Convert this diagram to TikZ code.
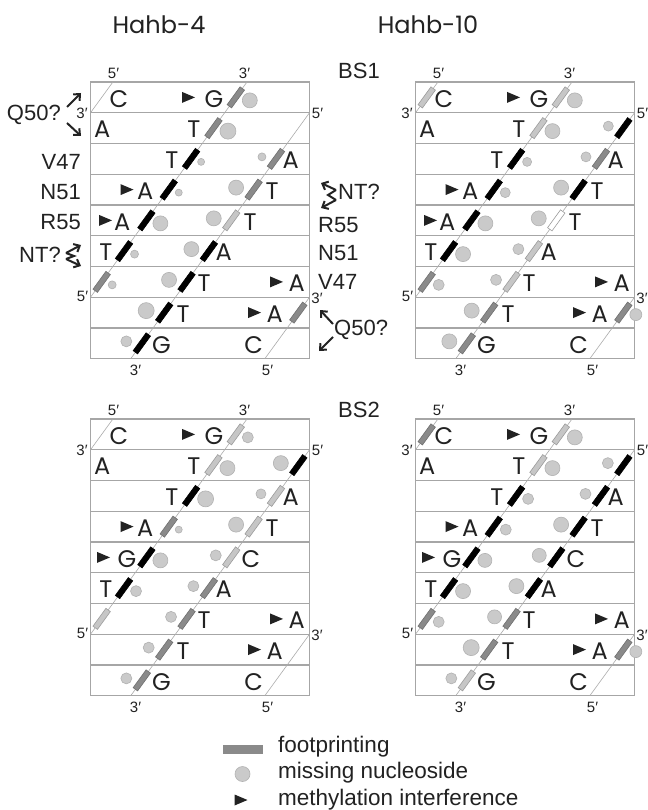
\documentclass[tikz,border=0pt]{standalone}
\usepackage{fontspec}
\setmainfont{Liberation Sans}
\newfontfamily\geo{Poppins}
\usetikzlibrary{arrows.meta}
\definecolor{gM}{HTML}{8A8A8A}
\definecolor{gMd}{HTML}{707070}
\definecolor{gL}{HTML}{C6C6C6}
\definecolor{gLd}{HTML}{9C9C9C}
\definecolor{gC}{HTML}{CACACA}
\definecolor{gCd}{HTML}{B2B2B2}
\definecolor{gBox}{HTML}{A6A6A6}
\definecolor{gStr}{HTML}{ABABAB}
\definecolor{txt}{HTML}{222222}
\tikzset{
  bar/.style={rectangle, minimum width=22pt, minimum height=5.5pt, inner sep=0pt, rotate=54, line width=0.6pt},
  barK/.style={fill=black, draw=black},
  barM/.style={fill=gM, draw=gMd},
  barL/.style={fill=gL, draw=gLd},
  barW/.style={fill=white, draw=gLd},
  dot/.style={circle, fill=gC, draw=gCd, inner sep=0pt, line width=0.6pt},
  nt/.style={inner sep=0pt, font=\geo\fontsize{24}{26}\selectfont, text=txt},
  lab/.style={inner sep=0pt, font=\fontsize{22}{24}\selectfont, text=txt},
  leg/.style={inner sep=0pt, font=\fontsize{22.5}{24}\selectfont, text=txt},
  ttl/.style={inner sep=0pt, font=\geo\fontsize{24}{27}\selectfont, text=txt},
  endlab/.style={inner sep=0pt, font=\fontsize{15}{17}\selectfont, text=txt},
  boxline/.style={draw=gBox, line width=1.2pt},
  rowline/.style={draw=gBox, line width=1.2pt},
  strand/.style={draw=gStr, line width=0.6pt},
  arr/.style={draw=txt, line width=2pt, -{Straight Barb[length=5pt,width=9pt]}},
  zig/.style={draw=txt, line width=2pt, line join=miter}
}
\newcommand\Tri[2]{\fill[txt] ({#1-6.5},{#2-5.5}) -- ({#1+6.5},{#2}) -- ({#1-6.5},{#2+5.5}) -- cycle;}
\newcommand\Frame{%
  \draw[boxline] (0,0) rectangle (219,276.75);
  \foreach \k in {1,...,8}{\draw[rowline] (0,{\k*30.75}) -- (219,{\k*30.75});}
  \coordinate (\pp sA1) at (0,215.25); \coordinate (\pp sA2) at (156.5,0);
  \coordinate (\pp sB1) at (219,30.75); \coordinate (\pp sB2) at (40.2,276.75);
  \coordinate (\pp sC1) at (0,30.75); \coordinate (\pp sC2) at (22.4,0);
  \coordinate (\pp sD1) at (219,215.25); \coordinate (\pp sD2) at (174.3,276.75);
  \draw[strand] (\pp sA1) -- (\pp sA2);
  \draw[strand] (\pp sB1) -- (\pp sB2);
  \draw[strand] (\pp sC1) -- (\pp sC2);
  \draw[strand] (\pp sD1) -- (\pp sD2);
  \node[endlab] (\pp e1) at (23,-8.5) {5′};
  \node[endlab] (\pp e2) at (154,-8.5) {3′};
  \node[endlab] (\pp e3) at (-8.5,31) {3′};
  \node[endlab] (\pp e4) at (227,31) {5′};
  \node[endlab] (\pp e5) at (-8,214) {5′};
  \node[endlab] (\pp e6) at (226.5,216) {3′};
  \node[endlab] (\pp e7) at (45,288.5) {3′};
  \node[endlab] (\pp e8) at (177,288.5) {5′};
}
\newcommand\Letters[5]{%
  \node[nt,anchor=west] (\pp n1a) at (19,16.9) {C};
  \Tri{98}{15.4}
  \node[nt,anchor=east] (\pp n1b) at (133,16.9) {G};
  \node[nt,anchor=west] (\pp n2a) at (3.5,47.6) {A};
  \node[nt,anchor=east] (\pp n2b) at (110,47.6) {T};
  \node[nt,anchor=east] (\pp n3a) at (88,78.4) {T};
  \node[nt,anchor=west] (\pp n3b) at (192,78.4) {A};
  \Tri{36.5}{107.6}
  \node[nt,anchor=east] (\pp n4a) at (63,109.1) {A};
  \node[nt,anchor=west] (\pp n4b) at (175,109.1) {T};
  \Tri{#3}{138.4}
  \node[nt,anchor=east] (\pp n5a) at (#2,139.9) {#1};
  \node[nt,anchor=west] (\pp n5b) at (#5,139.9) {#4};
  \node[nt,anchor=east] (\pp n6a) at (22,170.6) {T};
  \node[nt,anchor=west] (\pp n6b) at (125,170.6) {A};
  \node[nt,anchor=west] (\pp n7a) at (107,201.4) {T};
  \Tri{186}{199.9}
  \node[nt,anchor=east] (\pp n7b) at (214.5,201.4) {A};
  \node[nt,anchor=west] (\pp n8a) at (86,232.1) {T};
  \Tri{164}{230.6}
  \node[nt,anchor=east] (\pp n8b) at (192.5,232.1) {A};
  \node[nt,anchor=west] (\pp n9a) at (61.5,262.9) {G};
  \node[nt,anchor=east] (\pp n9b) at (172.5,262.9) {C};
}
% strand A (rows 1-7): bar, circle to the right
\newcommand\SA[3]{%
  \pgfmathsetmacro\myBX{22.355*(7.5-#1)}%
  \pgfmathsetmacro\myBY{(#1-0.5)*30.75}%
  \node[bar,#2] (\pp a#1) at (\myBX,\myBY) {};%
  \ifdim #3pt>0pt
    \pgfmathsetmacro\myCD{2*#3}%
    \node[dot,minimum size=\myCD pt] (\pp ca#1) at ({\myBX+6.5+#3},{\myBY+3}) {};%
  \fi}
% strand B (rows 2-9): bar, circle to the left
\newcommand\SB[3]{%
  \pgfmathsetmacro\myBX{219-22.355*(#1-1.5)}%
  \pgfmathsetmacro\myBY{(#1-0.5)*30.75}%
  \node[bar,#2] (\pp b#1) at (\myBX,\myBY) {};%
  \ifdim #3pt>0pt
    \pgfmathsetmacro\myCD{2*#3}%
    \node[dot,minimum size=\myCD pt] (\pp cb#1) at ({\myBX-10-#3},{\myBY-2}) {};%
  \fi}
% strand C (row 1)
\newcommand\SC[1]{\node[bar,#1] (\pp c1) at (11.2,15.4) {};}
% strand D (rows 8-9): bar, circle to the right
\newcommand\SD[3]{%
  \pgfmathsetmacro\myBX{219-22.355*(#1-7.5)}%
  \pgfmathsetmacro\myBY{(#1-0.5)*30.75}%
  \node[bar,#2] (\pp d#1) at (\myBX,\myBY) {};%
  \ifdim #3pt>0pt
    \pgfmathsetmacro\myCD{2*#3}%
    \node[dot,minimum size=\myCD pt] (\pp cd#1) at ({\myBX+6.5+#3},{\myBY+2}) {};%
  \fi}
\begin{document}
\begin{tikzpicture}[x=1pt,y=-1pt]
\useasboundingbox (0,0) rectangle (647,810);
\fill[white] (0,0) rectangle (647,810);
% titles
\node[ttl] (t1) at (159,25) {Hahb-4};
\node[ttl] (t2) at (428,25) {Hahb-10};
\node[lab] (bs1) at (359,71) {BS1};
\node[lab] (bs2) at (359,410) {BS2};

% ---- Hahb-4 BS1
\def\pp{p1}
\begin{scope}[shift={(90.5,82)}]
\Frame
\SA{1}{barM}{7.5}\SA{2}{barM}{8}\SA{3}{barK}{3.5}\SA{4}{barK}{3.5}
\SA{5}{barK}{7.5}\SA{6}{barK}{4}\SA{7}{barM}{4}
\SB{3}{barM}{4}\SB{4}{barM}{7.5}\SB{5}{barL}{7.5}\SB{6}{barK}{7.5}
\SB{7}{barK}{7.5}\SB{8}{barK}{8}\SB{9}{barK}{5.5}
\SD{8}{barM}{0}
\Letters{A}{40}{15}{T}{153}
\end{scope}

% ---- Hahb-10 BS1
\def\pp{p2}
\begin{scope}[shift={(415.5,82)}]
\Frame
\SC{barL}
\SA{1}{barL}{7.5}\SA{2}{barL}{7.5}\SA{3}{barK}{4.5}\SA{4}{barK}{5}
\SA{5}{barK}{7.5}\SA{6}{barK}{7.5}\SA{7}{barM}{5.5}
\SB{2}{barK}{5}\SB{3}{barM}{5}\SB{4}{barK}{7.5}\SB{5}{barW}{7.5}
\SB{6}{barL}{5.5}\SB{7}{barL}{5.5}\SB{8}{barM}{7.5}\SB{9}{barM}{7.5}
\SD{8}{barM}{6}
\Letters{A}{40}{15}{T}{153}
\end{scope}

% ---- Hahb-4 BS2
\def\pp{p3}
\begin{scope}[shift={(90.5,419)}]
\Frame
\SA{1}{barL}{5.5}\SA{2}{barL}{7.5}\SA{3}{barK}{8}\SA{4}{barM}{3.5}
\SA{5}{barK}{7.5}\SA{6}{barK}{5.5}\SA{7}{barL}{0}
\SB{2}{barK}{7.5}\SB{3}{barL}{5}\SB{4}{barL}{7.5}\SB{5}{barL}{5.5}
\SB{6}{barM}{5.5}\SB{7}{barM}{5.5}\SB{8}{barM}{5.5}\SB{9}{barM}{5.5}
\Letters{G}{46}{13}{C}{151}
\end{scope}

% ---- Hahb-10 BS2
\def\pp{p4}
\begin{scope}[shift={(415.5,419)}]
\Frame
\SC{barM}
\SA{1}{barL}{7.5}\SA{2}{barL}{7.5}\SA{3}{barK}{5.5}\SA{4}{barK}{5.5}
\SA{5}{barK}{7}\SA{6}{barK}{7.5}\SA{7}{barM}{5.5}
\SB{2}{barK}{5.5}\SB{3}{barK}{5.5}\SB{4}{barK}{7.5}\SB{5}{barK}{7}
\SB{6}{barK}{7.5}\SB{7}{barM}{7}\SB{8}{barM}{8}\SB{9}{barL}{5.5}
\SD{8}{barM}{6}
\Letters{G}{46}{13}{C}{151}
\end{scope}

% side labels, left
\node[lab,anchor=east] (lq50) at (61,115) {Q50?};
\node[lab,anchor=east] (lv47) at (81,162) {V47};
\node[lab,anchor=east] (ln51) at (81,192.5) {N51};
\node[lab,anchor=east] (lr55) at (81,222.5) {R55};
\node[lab,anchor=east] (lnt) at (61,255) {NT?};
\coordinate (qa1) at (67,107); \coordinate (qa2) at (81,93);
\coordinate (qb1) at (67,123); \coordinate (qb2) at (81,136);
\draw[arr] (qa1) -- (qa2);
\draw[arr] (qb1) -- (qb2);
\coordinate (na1) at (66,253); \coordinate (na2) at (81,245);
\coordinate (nb1) at (66,259); \coordinate (nb2) at (81,266);
\coordinate (nm) at (74,256);
\draw[arr] (na1) -- (na2);
\draw[arr] (nb1) -- (nb2);
\draw[zig] (na1) -- (nm) -- (nb1);
% side labels, right
\node[lab,anchor=west] (rnt) at (338,192) {NT?};
\node[lab,anchor=west] (rr55) at (318,225) {R55};
\node[lab,anchor=west] (rn51) at (318,253.5) {N51};
\node[lab,anchor=west] (rv47) at (318,281.5) {V47};
\node[lab,anchor=west] (rq50) at (334,330) {Q50?};
\coordinate (rna1) at (336,190); \coordinate (rna2) at (321,183);
\coordinate (rnb1) at (336,200); \coordinate (rnb2) at (321,208);
\coordinate (rnm) at (328,195);
\draw[arr] (rna1) -- (rna2);
\draw[arr] (rnb1) -- (rnb2);
\draw[zig] (rna1) -- (rnm) -- (rnb1);
\coordinate (rqa1) at (333,324); \coordinate (rqa2) at (320,310);
\coordinate (rqb1) at (333,337); \coordinate (rqb2) at (319,351);
\draw[arr] (rqa1) -- (rqa2);
\draw[arr] (rqb1) -- (rqb2);

% legend
\node[rectangle, fill=gM, minimum width=40pt, minimum height=9pt, inner sep=0pt] (lg1) at (243,749) {};
\node[dot, minimum size=15pt] (lg2) at (242.5,774) {};
\Tri{241}{800}
\node[leg,anchor=base west] (lt1) at (278,752) {footprinting};
\node[leg,anchor=base west] (lt2) at (278,778.5) {missing nucleoside};
\node[leg,anchor=base west] (lt3) at (278,805) {methylation interference};
\end{tikzpicture}
\end{document}
